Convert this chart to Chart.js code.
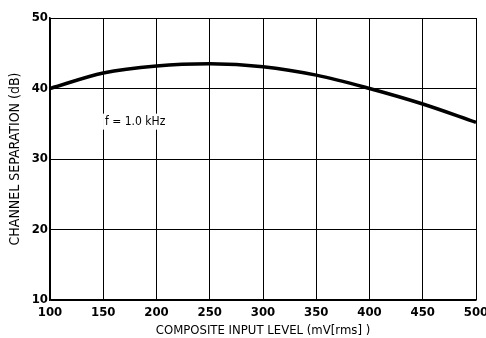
<!doctype html>
<html lang="en">
<head>
    <meta charset="utf-8">
    <title>Channel separation vs composite input level</title>
    <style>
        html, body { margin: 0; padding: 0; background: #fff; }
    </style>
</head>
<script src="https://cdn.jsdelivr.net/npm/chart.js"></script>
<body>
<div class="chart-container" style="height:338px; width:486px">
    <canvas id="sep-chart"></canvas>
</div>
<script>
    // DATA
    const inputLevel = [100, 150, 200, 250, 300, 350, 400, 450, 500]
    const separation = [40, 42.2, 43.2, 43.5, 43.1, 41.9, 40, 37.8, 35.2]
    const xTicks = [100, 150, 200, 250, 300, 350, 400, 450, 500]
    const yTicks = [10, 20, 30, 40, 50]
    const note = {text: "f = 1.0 kHz", x: 180, y: 35.3}

    const FONT = "'DejaVu Sans Condensed', 'DejaVu Sans', sans-serif"

    // draws the frequency note inside the plot, on a white patch over the grid
    const notePlugin = {
        id: 'note',
        afterDatasetsDraw(chart) {
            const ctx = chart.ctx
            const x = chart.scales.x.getPixelForValue(note.x)
            const y = chart.scales.y.getPixelForValue(note.y)
            ctx.save()
            ctx.font = "12px " + FONT
            const w = ctx.measureText(note.text).width
            ctx.fillStyle = "#fff"
            ctx.fillRect(x - w / 2 - 2, y - 8, w + 4, 16)
            ctx.fillStyle = "#000"
            ctx.textAlign = "center"
            ctx.textBaseline = "middle"
            ctx.fillText(note.text, x, y)
            ctx.restore()
        }
    }

    new Chart(document.getElementById('sep-chart').getContext('2d'), {
        type: 'scatter',
        plugins: [notePlugin],
        data: {
            datasets: [{
                data: inputLevel.map((v, i) => ({x: v, y: separation[i]})),
                showLine: true,
                borderColor: "#000",
                borderWidth: 3.5,
                pointRadius: 0,
                cubicInterpolationMode: 'monotone',
                fill: false
            }]
        },
        options: {
            responsive: true,
            maintainAspectRatio: false,
            animation: false,
            layout: {padding: {top: 18, right: 10, left: 0, bottom: 0}},
            plugins: {
                legend: {display: false},
                tooltip: {enabled: false}
            },
            scales: {
                x: {
                    type: 'linear',
                    min: 100,
                    max: 500,
                    afterFit: s => { s.height = 38; s.paddingLeft = 0; s.paddingRight = 0 },
                    afterBuildTicks: s => { s.ticks = xTicks.map(v => ({value: v})) },
                    grid: {color: "#000", lineWidth: 1, drawTicks: false},
                    border: {color: "#000", width: 1.5},
                    ticks: {
                        color: "#000",
                        padding: 5,
                        maxRotation: 0,
                        font: {family: FONT, size: 13, weight: 'bold'}
                    },
                    title: {
                        display: true,
                        text: "COMPOSITE INPUT LEVEL (mV[rms] )",
                        color: "#000",
                        padding: {top: 1, bottom: 0},
                        font: {family: FONT, size: 13}
                    }
                },
                y: {
                    min: 10,
                    max: 50,
                    afterFit: s => { s.width = 50 },
                    afterBuildTicks: s => { s.ticks = yTicks.map(v => ({value: v})) },
                    grid: {color: "#000", lineWidth: 1, drawTicks: false},
                    border: {color: "#000", width: 1.5},
                    ticks: {
                        color: "#000",
                        padding: 2,
                        font: {family: FONT, size: 13, weight: 'bold'}
                    },
                    title: {
                        display: true,
                        text: "CHANNEL SEPARATION (dB)",
                        color: "#000",
                        padding: {top: 7, bottom: 0},
                        font: {family: FONT, size: 14}
                    }
                }
            }
        }
    })
</script>
</body>
</html>
